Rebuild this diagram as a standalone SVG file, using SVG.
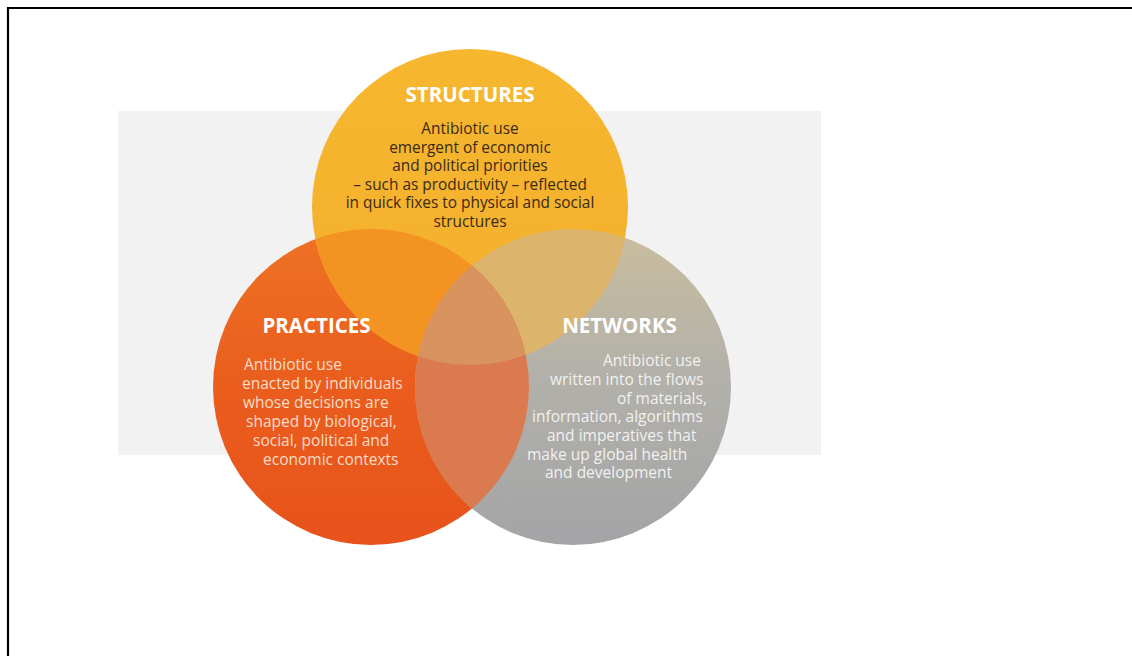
<svg xmlns="http://www.w3.org/2000/svg" width="1132" height="656" viewBox="0 0 1132 656">
  <style>
    .title { font-family: "Open Sans", "Noto Sans", "Liberation Sans", sans-serif; font-weight: bold; font-size: 20.5px; fill: #ffffff; }
    .body { font-family: "Open Sans", "Noto Sans", "Liberation Sans", sans-serif; font-size: 15.5px; }
    .dark { fill: #3a2a14; font-size: 15.4px; }
    .light1 { fill: #fadcc8; }
    .light2 { fill: #f1f1f1; }
  </style>
  <defs>
    <linearGradient id="gOrange" x1="0" y1="0" x2="0" y2="1">
      <stop offset="0" stop-color="#ee7224"/>
      <stop offset="0.5" stop-color="#ea5d1d"/>
      <stop offset="1" stop-color="#e7531b"/>
    </linearGradient>
    <linearGradient id="gGray" x1="0" y1="0" x2="0" y2="1">
      <stop offset="0" stop-color="#c9bd9c"/>
      <stop offset="0.45" stop-color="#b3b1aa"/>
      <stop offset="1" stop-color="#a3a4a6"/>
    </linearGradient>
    <linearGradient id="gYellow" x1="0" y1="0" x2="0" y2="1">
      <stop offset="0" stop-color="#f6b72f"/>
      <stop offset="1" stop-color="#f4ae2d"/>
    </linearGradient>
    <clipPath id="cY"><circle cx="470" cy="207" r="158"/></clipPath>
    <clipPath id="cO"><circle cx="371" cy="387" r="158"/></clipPath>
  </defs>

  <rect x="0" y="0" width="1132" height="656" fill="#ffffff"/>
  <path d="M1132 8 H8 V656" fill="none" stroke="#000000" stroke-width="2.2"/>
  <rect x="118" y="111" width="703" height="344" fill="#f2f2f2"/>

  <g id="practices">
    <circle cx="371" cy="387" r="158" fill="url(#gOrange)"/>
  </g>
  <g id="networks">
    <circle cx="573" cy="387" r="158" fill="url(#gGray)"/>
  </g>
  <g id="structures">
    <circle cx="470" cy="207" r="158" fill="url(#gYellow)"/>
  </g>

  <g id="overlaps">
    <g clip-path="url(#cY)">
      <circle cx="371" cy="387" r="158" fill="#f39321"/>
      <circle cx="573" cy="387" r="158" fill="#dcb46c"/>
    </g>
    <g clip-path="url(#cO)">
      <circle cx="573" cy="387" r="158" fill="#dc7a4f"/>
      <g clip-path="url(#cY)">
        <circle cx="573" cy="387" r="158" fill="#d8935f"/>
      </g>
    </g>
  </g>

  <g id="structures-text">
    <text class="title" x="470" y="102" text-anchor="middle">STRUCTURES</text>
    <g class="body dark" text-anchor="middle">
      <text x="470" y="134">Antibiotic use</text>
      <text x="470" y="152.5">emergent of economic</text>
      <text x="470" y="171">and political priorities</text>
      <text x="470" y="189.5">– such as productivity – reflected</text>
      <text x="470" y="208">in quick fixes to physical and social</text>
      <text x="470" y="226.5">structures</text>
    </g>
  </g>

  <g id="practices-text">
    <text class="title" x="316.5" y="333" text-anchor="middle">PRACTICES</text>
    <g class="body light1">
      <text x="244" y="370">Antibiotic use</text>
      <text x="242" y="389">enacted by individuals</text>
      <text x="243" y="408">whose decisions are</text>
      <text x="246" y="427">shaped by biological,</text>
      <text x="253" y="446">social, political and</text>
      <text x="263" y="465">economic contexts</text>
    </g>
  </g>

  <g id="networks-text">
    <text class="title" x="619.5" y="333" text-anchor="middle">NETWORKS</text>
    <g class="body light2">
      <text x="603" y="366">Antibiotic use</text>
      <text x="550" y="385">written into the flows</text>
      <text x="617" y="403.5">of materials,</text>
      <text x="532" y="422">information, algorithms</text>
      <text x="547" y="441">and imperatives that</text>
      <text x="527" y="459.5">make up global health</text>
      <text x="545" y="478">and development</text>
    </g>
  </g>
</svg>
